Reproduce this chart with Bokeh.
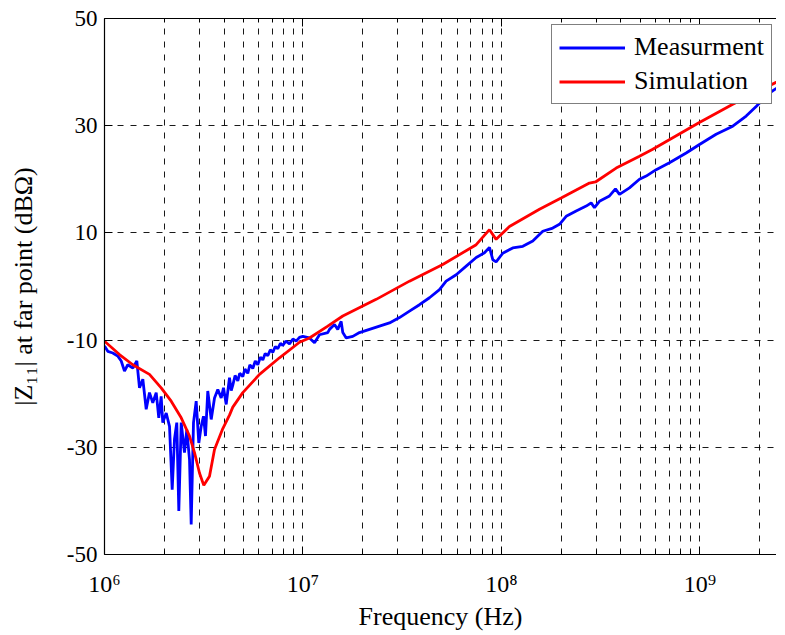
from bokeh.plotting import figure
from bokeh.models import LogAxis, FixedTicker, Legend, LegendItem, Range1d, CustomJSTickFormatter
from bokeh.embed import file_html
from bokeh.resources import INLINE
import numpy as np

# ---- data (frequency in MHz, |Z11| in dB-ohm) ----
meas_freq_mhz = [1.000, 1.039, 1.101, 1.167, 1.214, 1.261, 1.310, 1.389, 1.455, 1.501,
                 1.560, 1.622, 1.685, 1.751, 1.822, 1.877, 1.930, 1.966, 2.046, 2.126,
                 2.193, 2.252, 2.313, 2.368, 2.435, 2.529, 2.598, 2.681, 2.734, 2.808,
                 2.897, 2.986, 3.070, 3.153, 3.227, 3.314, 3.448, 3.583, 3.723, 3.872,
                 3.977, 4.103, 4.263, 4.350, 4.430, 4.550, 4.694, 4.800, 4.974, 5.100,
                 5.271, 5.400, 5.586, 5.750, 5.920, 6.100, 6.274, 6.450, 6.648, 6.850,
                 7.045, 7.250, 7.464, 7.700, 7.910, 8.200, 8.551, 8.900, 9.241, 9.600,
                 9.977, 10.78, 11.43, 12.11,
                 13.33, 13.60, 14.41, 14.97, 15.57, 15.87, 16.51, 17.82, 19.26, 21.63,
                 24.29, 27.28, 30.63, 34.40, 38.63, 43.38, 48.72, 52.64, 59.13, 66.41,
                 74.60, 82.12, 87.00, 90.42, 94.00, 101.5, 114.0, 128.1, 143.8, 161.5,
                 181.3, 196.0, 211.8, 237.8, 267.2, 283.1, 294.1, 311.6, 350.1, 375.3,
                 393.1, 441.3, 495.7, 535.8, 567.7, 601.6, 702.0, 852.0, 994.3, 1206.0,
                 1463.0, 1709.0, 1919.0, 2239.0, 2666.0]
meas_db = [-11.1, -12.1, -12.4, -13.0, -13.9, -15.8, -14.6, -15.2, -13.9, -18.9,
           -17.3, -22.9, -19.8, -21.7, -19.8, -24.5, -20.5, -25.4, -23.6, -26.1,
           -37.9, -28.5, -25.4, -41.9, -25.4, -31.0, -26.7, -32.3, -44.4, -25.4,
           -21.4, -29.2, -26.1, -24.2, -27.9, -19.5, -24.8, -20.8, -19.2, -20.8,
           -18.9, -22.0, -17.0, -19.4, -18.4, -16.6, -17.6, -16.2, -16.8, -15.4,
           -16.2, -14.6, -15.3, -13.9, -14.6, -13.2, -13.7, -12.5, -12.9, -11.8,
           -12.3, -11.2, -11.6, -10.6, -11.0, -10.2, -10.7, -9.8, -10.2, -9.5,
           -9.3, -9.6, -10.5, -9.0,
           -8.6, -8.0, -7.1, -8.0, -6.5, -8.6, -9.6, -9.3, -8.6, -8.0,
           -7.4, -6.8, -5.8, -4.6, -3.4, -2.1, -0.6, 1.0, 2.2, 3.8,
           5.4, 6.3, 7.3, 5.0, 4.6, 6.2, 7.2, 7.5, 8.5, 10.3,
           10.9, 11.6, 13.1, 14.1, 15.0, 15.6, 14.7, 15.9, 16.9, 18.2,
           17.2, 18.4, 20.0, 20.6, 21.2, 21.8, 23.1, 24.9, 26.5, 28.4,
           29.9, 31.8, 33.6, 36.1, 38.0]

sim_freq_mhz = [1.000, 1.190, 1.389, 1.685, 1.930, 2.168, 2.435, 2.681, 2.841, 3.010,
                3.164, 3.381, 3.583, 3.945, 4.263, 4.430, 4.974, 6.038, 7.613, 9.603,
                10.78, 13.33, 15.87, 23.38, 34.40, 50.60, 74.60, 87.00, 94.00, 109.7,
                155.4, 199.8, 277.5, 297.6, 378.3, 495.7, 578.3, 982.7, 1463.0, 2666.0]
sim_db = [-10.2, -12.7, -14.6, -16.4, -18.9, -21.4, -24.5, -27.9, -31.0, -34.8,
          -37.1, -35.4, -30.4, -26.5, -24.0, -22.5, -19.8, -16.4, -13.3, -10.4,
          -9.6, -7.4, -5.5, -2.4, 1.0, 4.1, 7.8, 10.6, 8.8, 11.2,
          14.4, 16.5, 19.3, 19.5, 22.1, 24.3, 25.6, 30.5, 34.0, 38.9]

x_major_ticks = [1e6, 1e7, 1e8, 1e9]
x_minor_ticks = [m * 10.0 ** e for e in range(6, 10) for m in range(2, 10)]
y_ticks = [-50, -30, -10, 10, 30, 50]
series_labels = ["Measurment", "Simulation"]

meas_f = np.array(meas_freq_mhz) * 1e6
sim_f = np.array(sim_freq_mhz) * 1e6

FONT = "'Liberation Serif', 'Times New Roman', serif"

p = figure(width=776, height=633, x_axis_type="log",
           x_range=Range1d(1e6, 2.43e9), y_range=Range1d(-50, 50),
           output_backend="svg", toolbar_location=None,
           min_border_left=104, min_border_right=0, min_border_top=18, min_border_bottom=78,
           background_fill_color="white", border_fill_color="white")
p.outline_line_color = None

xticker = FixedTicker(ticks=x_major_ticks, minor_ticks=x_minor_ticks)
yticker = FixedTicker(ticks=y_ticks)

p.xaxis.ticker = xticker
p.yaxis.ticker = yticker
p.xgrid.ticker = xticker
p.ygrid.ticker = yticker

# superscript exponent labels: 10⁶, 10⁷ ...
p.xaxis.formatter = CustomJSTickFormatter(code="""
    const sup = {'0':'\u2070','1':'\u00b9','2':'\u00b2','3':'\u00b3','4':'\u2074',
                 '5':'\u2075','6':'\u2076','7':'\u2077','8':'\u2078','9':'\u2079','-':'\u207b'};
    const e = Math.round(Math.log10(tick)).toString();
    let s = '';
    for (const c of e) s += sup[c];
    return '10' + s;
""")
p.yaxis.formatter = CustomJSTickFormatter(code="return tick.toFixed(0);")

for g in (p.xgrid, p.ygrid):
    g.grid_line_color = "black"
    g.grid_line_width = 1
    g.grid_line_dash = "6 7"
    g.grid_line_alpha = 0.9
p.xgrid.minor_grid_line_color = "black"
p.xgrid.minor_grid_line_width = 1
p.xgrid.minor_grid_line_dash = "6 7"
p.xgrid.minor_grid_line_alpha = 0.9

for ax in (p.xaxis[0], p.yaxis[0]):
    ax.axis_line_color = "black"
    ax.axis_line_width = 1.2
    ax.major_tick_in = 8
    ax.major_tick_out = 0
    ax.minor_tick_in = 4
    ax.minor_tick_out = 0
    ax.major_tick_line_color = "black"
    ax.minor_tick_line_color = "black"
    ax.major_label_text_font = FONT
    ax.major_label_text_font_size = "23px"
    ax.major_label_text_color = "black"
    ax.axis_label_text_font = FONT
    ax.axis_label_text_font_size = "26px"
    ax.axis_label_text_font_style = "normal"
    ax.axis_label_text_color = "black"

p.xaxis.major_label_text_font_size = "24px"
p.yaxis.minor_tick_line_color = None
p.xaxis.axis_label = "Frequency (Hz)"
p.yaxis.axis_label = "|Z\u2081\u2081| at far point (dB\u03a9)"
p.xaxis.major_label_standoff = 16
p.xaxis.axis_label_standoff = 2
p.yaxis.major_label_standoff = 7
p.yaxis.axis_label_standoff = 26

top = LogAxis(ticker=xticker,
              formatter=CustomJSTickFormatter(code="return ' ';"),
              major_label_text_font_size="4px",
              major_tick_in=8, major_tick_out=0, minor_tick_in=4, minor_tick_out=0,
              axis_line_color="black", axis_line_width=1.2,
              major_label_standoff=0)
p.add_layout(top, "above")

r_meas = p.line(meas_f, meas_db, line_color="#0000FF", line_width=2.8)
r_sim = p.line(sim_f, sim_db, line_color="#FF0000", line_width=2.8)

legend = Legend(items=[LegendItem(label=series_labels[0], renderers=[r_meas]),
                       LegendItem(label=series_labels[1], renderers=[r_sim])],
                location=(447, 450))
legend.border_line_color = "black"
legend.border_line_width = 1
legend.background_fill_color = "white"
legend.background_fill_alpha = 1
legend.label_text_font = FONT
legend.label_text_font_size = "26px"
legend.label_text_color = "black"
legend.glyph_width = 66
legend.glyph_height = 29
legend.label_height = 29
legend.spacing = 4
legend.padding = 7
legend.margin = 0
legend.label_standoff = 9
p.add_layout(legend)

open("out.html", "w").write(file_html(p, INLINE))
